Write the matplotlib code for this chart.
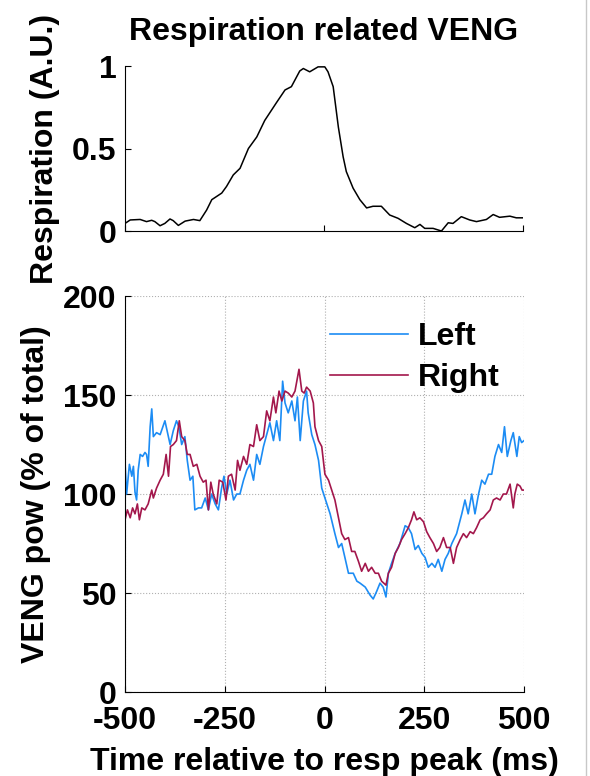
import matplotlib
matplotlib.use("Agg")
import matplotlib.pyplot as plt
from matplotlib.lines import Line2D

plt.rcParams['font.family'] = ['Liberation Sans', 'DejaVu Sans']
plt.rcParams['font.weight'] = 'bold'
plt.rcParams['font.size'] = 23
plt.rcParams['axes.titlesize'] = 23
plt.rcParams['axes.unicode_minus'] = False

# respiration trace (top)
resp_t = [-500, -487, -462, -446, -433, -425, -412, -400, -387, -379, -366, -349, -328, -312,
          -295, -282, -257, -245, -228, -211, -190, -169, -149, -119, -98, -82, -61, -52, -36,
          -15, 2, 10, 23, 36, 48, 56, 73, 90, 107, 123, 144, 165, 186, 207, 228, 241, 253, 274,
          295, 312, 324, 345, 366, 383, 408, 425, 441, 467, 483, 500]
resp_v = [0.046, 0.067, 0.07, 0.057, 0.065, 0.057, 0.032, 0.046, 0.073, 0.063, 0.034, 0.06,
          0.07, 0.063, 0.127, 0.19, 0.23, 0.27, 0.34, 0.38, 0.5, 0.57, 0.67, 0.78, 0.855, 0.875,
          0.97, 0.985, 0.965, 0.995, 0.995, 0.965, 0.875, 0.63, 0.45, 0.36, 0.26, 0.19, 0.14,
          0.15, 0.15, 0.097, 0.077, 0.046, 0.02, 0.04, 0.016, 0.016, 0.0, 0.05, 0.046, 0.087,
          0.067, 0.057, 0.07, 0.1, 0.083, 0.09, 0.08, 0.08]

# VENG power, left side
left_t = [-500, -496, -489, -483, -479, -475, -471, -467, -462, -456, -450, -446, -442, -437,
          -433, -429, -421, -412, -400, -387, -379, -371, -365, -358, -350, -344, -337, -330,
          -325, -316, -308, -299, -291, -283, -274, -266, -258, -252, -245, -237, -228, -220,
          -212, -203, -195, -187, -178, -170, -162, -153, -145, -137, -128, -120, -112, -105,
          -99, -91, -82, -74, -68, -61, -53, -45, -41, -32, -24, -15, -7, 1, 14, 26, 35, 43,
          51, 60, 72, 81, 89, 102, 114, 122, 131, 139, 147, 154, 160, 168, 177, 189, 202, 210,
          218, 227, 235, 244, 252, 260, 269, 277, 285, 294, 302, 310, 319, 331, 344, 352, 360,
          369, 377, 386, 394, 402, 411, 419, 427, 436, 444, 451, 458, 467, 473, 482, 488, 494,
          500]
left_v = [116, 100, 115, 109, 114, 101, 97, 112, 120, 119, 121, 120, 114, 134, 143, 129, 131,
          130, 137, 125, 132, 137, 134, 125, 129, 117, 107, 109, 92, 93, 93, 98, 92, 100, 95,
          92, 103, 109, 100, 107, 97, 100, 100, 107, 112, 115, 107, 120, 115, 124, 130, 136,
          127, 137, 127, 157, 146, 141, 147, 137, 149, 127, 147, 152, 141, 130, 125, 117, 103,
          98, 90, 80, 73, 75, 68, 60, 60, 56, 55, 53, 49, 47, 51, 55, 53, 48, 60, 65, 70, 75,
          84, 83, 80, 72, 74, 70, 68, 63, 65, 63, 67, 61, 67, 70, 75, 80, 90, 97, 90, 100, 90,
          100, 107, 105, 110, 110, 119, 125, 121, 134, 119, 127, 131, 119, 129, 126, 127]

# VENG power, right side
right_t = [-500, -494, -487, -481, -475, -469, -464, -458, -450, -442, -433, -429, -421, -412,
           -404, -397, -391, -386, -379, -371, -364, -358, -350, -344, -337, -329, -320, -312,
           -304, -297, -291, -285, -279, -270, -264, -255, -247, -241, -233, -224, -218, -212,
           -203, -195, -187, -178, -170, -162, -153, -145, -137, -128, -122, -114, -107, -99,
           -91, -82, -74, -64, -57, -51, -45, -36, -28, -24, -15, -7, 1, 10, 18, 26, 35, 43, 51,
           60, 68, 76, 85, 93, 102, 110, 118, 127, 135, 143, 154, 160, 168, 177, 185, 193, 202,
           210, 218, 224, 231, 239, 248, 256, 264, 273, 281, 289, 298, 306, 315, 323, 331, 340,
           348, 356, 365, 373, 381, 390, 398, 406, 415, 423, 431, 440, 448, 456, 465, 473, 477,
           483, 490, 495, 500]
right_v = [87, 92, 88, 93, 90, 95, 87, 93, 92, 95, 102, 98, 103, 107, 110, 120, 109, 124, 125,
           127, 137, 129, 127, 120, 120, 114, 115, 109, 106, 107, 92, 106, 100, 95, 107, 106, 97,
           109, 110, 102, 117, 112, 119, 115, 125, 124, 135, 127, 129, 142, 137, 149, 141, 152,
           147, 152, 151, 149, 152, 163, 152, 151, 154, 152, 146, 134, 127, 124, 110, 107, 102,
           97, 88, 80, 77, 78, 71, 71, 66, 61, 65, 61, 63, 60, 60, 56, 54, 60, 63, 70, 73, 77,
           80, 83, 87, 91, 87, 88, 86, 81, 78, 75, 71, 73, 78, 73, 73, 65, 73, 77, 80, 78, 81,
           80, 83, 87, 88, 90, 92, 97, 98, 97, 100, 100, 105, 93, 100, 105, 104, 102, 102]

x_ticks = [-500, -250, 0, 250, 500]
blue = '#1c8cf4'
crimson = '#a3174c'

fig = plt.figure(figsize=(5.9, 7.76), dpi=100)

# top panel
ax1 = fig.add_axes([0.2119, 0.7023, 0.6746, 0.2126])
ax1.plot(resp_t, resp_v, color='black', linewidth=1.1)
ax1.set_xlim(-500, 500)
ax1.set_ylim(0, 1)
ax1.set_xticks([-500, 0, 500])
ax1.set_xticklabels([])
ax1.set_yticks([0, 0.5, 1])
ax1.set_yticklabels(['0', '0.5', '1'])
ax1.spines['top'].set_visible(False)
ax1.spines['right'].set_visible(False)
ax1.tick_params(direction='in', length=4, width=0.8, pad=6)
ax1.set_ylabel('Respiration (A.U.)', fontweight='bold', labelpad=9)
ax1.set_title('Respiration related VENG', fontweight='bold', pad=19)

# bottom panel
ax2 = fig.add_axes([0.2119, 0.1082, 0.6763, 0.5103])
ax2.plot(left_t, left_v, color=blue, linewidth=1.2, label='Left')
ax2.plot(right_t, right_v, color=crimson, linewidth=1.2, label='Right')
ax2.set_xlim(-500, 500)
ax2.set_ylim(0, 200)
ax2.set_xticks(x_ticks)
ax2.set_yticks([0, 50, 100, 150, 200])
ax2.grid(True, linestyle=':', color='#b0b0b0', linewidth=0.8)
ax2.spines['top'].set_visible(False)
ax2.spines['right'].set_visible(False)
ax2.tick_params(axis='y', direction='in', length=4, width=0.8, pad=6)
ax2.tick_params(axis='x', direction='in', length=4, width=0.8, pad=10)
ax2.set_xlabel('Time relative to resp peak (ms)', fontweight='bold', labelpad=8)
ax2.set_ylabel('VENG pow (% of total)', fontweight='bold', labelpad=9)
ax2.legend(loc='upper left', bbox_to_anchor=(0.514, 0.934), frameon=False,
           borderpad=0, borderaxespad=0, handlelength=2.44, handletextpad=0.31,
           labelspacing=0.33)

# page edge
fig.add_artist(Line2D([0.993, 0.993], [0, 1], color='#c8c8c8', linewidth=1.0))

fig.savefig('out.png', dpi=100)
